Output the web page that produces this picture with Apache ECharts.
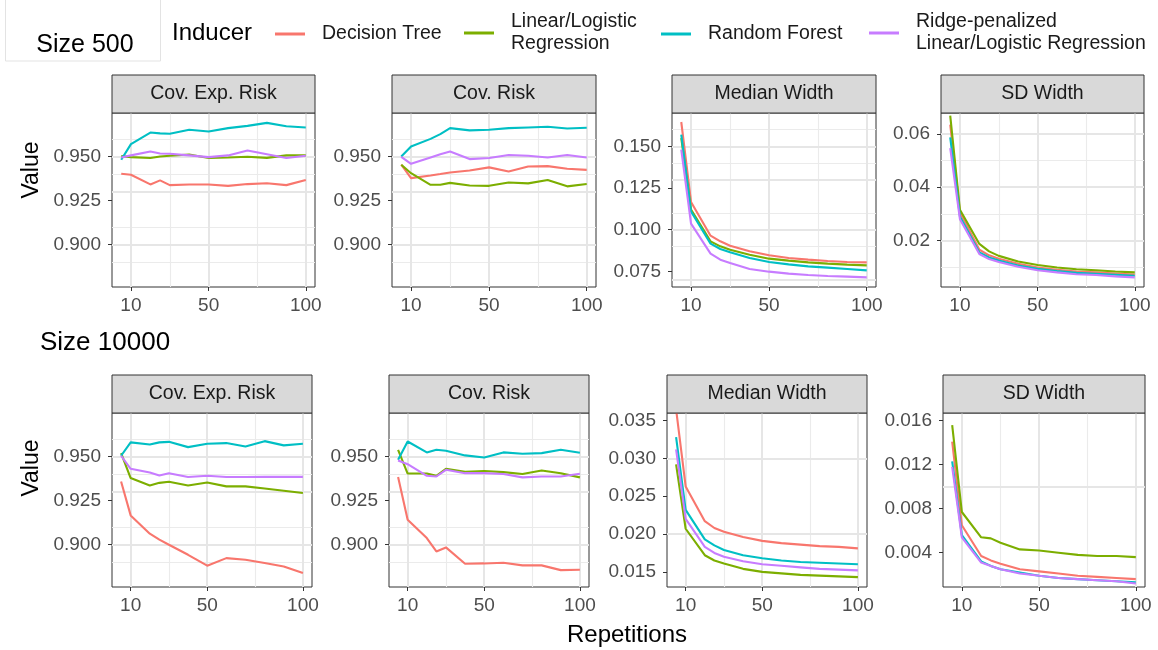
<!DOCTYPE html>
<html><head><meta charset="utf-8">
<script src="https://cdn.jsdelivr.net/npm/echarts@6/dist/echarts.min.js"></script>
<style>html,body{margin:0;padding:0;background:#fff}#c{width:1158px;height:650px}</style>
</head><body><div id="c"></div>
<script>
// ---------------- DATA ----------------
const repetitions = [5,10,20,25,30,40,50,60,70,80,90,100];
const inducers = ['Decision Tree','Linear/Logistic\nRegression','Random Forest','Ridge-penalized\nLinear/Logistic Regression'];
const panelTitles = ['Cov. Exp. Risk','Cov. Risk','Median Width','SD Width'];
const rowTitles = ['Size 500','Size 10000'];
const xTicks = [10,50,100];
const xMinorTicks = [30,75];

const covTicks = [0.900,0.925,0.950];
const covMinor = [0.8875,0.9125,0.9375,0.9625];
const mw500Ticks = [0.075,0.100,0.125,0.150];
const mw500Minor = [0.0875,0.1125,0.1375,0.1625];
const sd500Ticks = [0.02,0.04,0.06];
const sd500Minor = [0.01,0.03,0.05];
const mw10kTicks = [0.015,0.020,0.025,0.030,0.035];
const mw10kMinor = [0.0175,0.0225,0.0275,0.0325];
const sd10kTicks = [0.004,0.008,0.012,0.016];
const sd10kMinor = [0.002,0.006,0.010,0.014];

// Size 500
const s500_cer_dt = [0.9402,0.9396,0.9341,0.9364,0.9337,0.9341,0.9341,0.9333,0.9343,0.9348,0.9337,0.9366];
const s500_cer_lr = [0.9502,0.9496,0.9491,0.9500,0.9504,0.9511,0.9491,0.9494,0.9498,0.9492,0.9506,0.9506];
const s500_cer_rf = [0.9481,0.9570,0.9636,0.9631,0.9629,0.9652,0.9642,0.9661,0.9674,0.9691,0.9672,0.9665];
const s500_cer_rr = [0.9494,0.9506,0.9528,0.9517,0.9515,0.9506,0.9496,0.9506,0.9534,0.9513,0.9491,0.9504];

const s500_cr_dt = [0.9453,0.9377,0.9392,0.9400,0.9409,0.9420,0.9438,0.9415,0.9443,0.9445,0.9430,0.9424];
const s500_cr_lr = [0.9453,0.9405,0.9339,0.9339,0.9350,0.9335,0.9333,0.9352,0.9347,0.9366,0.9330,0.9343];
const s500_cr_rf = [0.9500,0.9557,0.9600,0.9627,0.9661,0.9648,0.9652,0.9661,0.9665,0.9669,0.9659,0.9663];
const s500_cr_rr = [0.9498,0.9458,0.9494,0.9513,0.9528,0.9485,0.9491,0.9508,0.9504,0.9494,0.9508,0.9494];

const s500_mw_dt = [0.1646,0.1166,0.0964,0.0930,0.0904,0.0870,0.0846,0.0830,0.0820,0.0812,0.0806,0.0804];
const s500_mw_lr = [0.1550,0.1120,0.0930,0.0900,0.0880,0.0850,0.0826,0.0814,0.0804,0.0796,0.0790,0.0786];
const s500_mw_rf = [0.1570,0.1110,0.0916,0.0884,0.0864,0.0830,0.0806,0.0792,0.0780,0.0772,0.0764,0.0756];
const s500_mw_rr = [0.1480,0.1036,0.0856,0.0820,0.0800,0.0764,0.0748,0.0736,0.0728,0.0722,0.0718,0.0714];

const s500_sd_dt = [0.0635,0.0305,0.0165,0.0144,0.0131,0.0112,0.0098,0.0090,0.0083,0.0080,0.0076,0.0072];
const s500_sd_lr = [0.0669,0.0315,0.0187,0.0159,0.0142,0.0121,0.0108,0.0098,0.0092,0.0088,0.0083,0.0080];
const s500_sd_rf = [0.0587,0.0290,0.0155,0.0136,0.0125,0.0106,0.0093,0.0085,0.0078,0.0075,0.0071,0.0067];
const s500_sd_rr = [0.0547,0.0280,0.0149,0.0130,0.0119,0.0101,0.0088,0.0080,0.0073,0.0070,0.0065,0.0061];

// Size 10000
const s10k_cer_dt = [0.9358,0.9165,0.9061,0.9027,0.8998,0.8941,0.8879,0.8922,0.8913,0.8894,0.8875,0.8837];
const s10k_cer_lr = [0.9519,0.9377,0.9335,0.9350,0.9356,0.9335,0.9352,0.9330,0.9330,0.9318,0.9305,0.9292];
const s10k_cer_rf = [0.9504,0.9580,0.9568,0.9580,0.9583,0.9553,0.9572,0.9576,0.9557,0.9587,0.9563,0.9572];
const s10k_cer_rr = [0.9504,0.9430,0.9409,0.9392,0.9405,0.9383,0.9390,0.9383,0.9383,0.9384,0.9384,0.9384];

const s10k_cr_dt = [0.9383,0.9140,0.9036,0.8960,0.8983,0.8890,0.8892,0.8896,0.8881,0.8881,0.8854,0.8856];
const s10k_cr_lr = [0.9538,0.9403,0.9403,0.9390,0.9430,0.9413,0.9417,0.9411,0.9400,0.9420,0.9405,0.9381];
const s10k_cr_rf = [0.9481,0.9585,0.9523,0.9538,0.9532,0.9506,0.9494,0.9523,0.9515,0.9519,0.9538,0.9521];
const s10k_cr_rr = [0.9477,0.9456,0.9390,0.9386,0.9424,0.9405,0.9405,0.9400,0.9381,0.9386,0.9386,0.9402];

const s10k_mw_dt = [0.0365,0.0263,0.0217,0.0208,0.0203,0.0196,0.0191,0.0188,0.0186,0.0184,0.0183,0.0181];
const s10k_mw_lr = [0.0292,0.0207,0.0172,0.0165,0.0161,0.0154,0.0150,0.0148,0.0146,0.0145,0.0144,0.0143];
const s10k_mw_rf = [0.0328,0.0232,0.0193,0.0185,0.0179,0.0172,0.0168,0.0165,0.0163,0.0162,0.0161,0.0160];
const s10k_mw_rr = [0.0312,0.0220,0.0183,0.0175,0.0170,0.0164,0.0160,0.0158,0.0156,0.0154,0.0153,0.0152];

const s10k_sd_dt = [0.0141,0.0065,0.0037,0.0033,0.0030,0.0025,0.0023,0.0021,0.0019,0.0018,0.0017,0.0016];
const s10k_sd_lr = [0.0156,0.0077,0.0054,0.0053,0.0049,0.0043,0.0042,0.0040,0.0038,0.0037,0.0037,0.0036];
const s10k_sd_rf = [0.0123,0.0056,0.0032,0.0028,0.0025,0.0022,0.0019,0.0017,0.0016,0.0015,0.0014,0.0013];
const s10k_sd_rr = [0.0118,0.0054,0.0031,0.0028,0.0025,0.0021,0.0019,0.0017,0.0016,0.0015,0.0014,0.0012];

// ---------------- BUILD ----------------
const colors = ['#F8766D','#7CAE00','#00BFC4','#C77CFF'];
const panelSeries = [
  [s500_cer_dt,s500_cer_lr,s500_cer_rf,s500_cer_rr],
  [s500_cr_dt,s500_cr_lr,s500_cr_rf,s500_cr_rr],
  [s500_mw_dt,s500_mw_lr,s500_mw_rf,s500_mw_rr],
  [s500_sd_dt,s500_sd_lr,s500_sd_rf,s500_sd_rr],
  [s10k_cer_dt,s10k_cer_lr,s10k_cer_rf,s10k_cer_rr],
  [s10k_cr_dt,s10k_cr_lr,s10k_cr_rf,s10k_cr_rr],
  [s10k_mw_dt,s10k_mw_lr,s10k_mw_rf,s10k_mw_rr],
  [s10k_sd_dt,s10k_sd_lr,s10k_sd_rf,s10k_sd_rr]
];
const yCfg = [
  {min:0.8758,max:0.9747,ticks:covTicks,minor:covMinor,dec:3},
  {min:0.8758,max:0.9747,ticks:covTicks,minor:covMinor,dec:3},
  {min:0.0656,max:0.1700,ticks:mw500Ticks,minor:mw500Minor,dec:3},
  {min:0.0025,max:0.0679,ticks:sd500Ticks,minor:sd500Minor,dec:2},
  {min:0.8758,max:0.9747,ticks:covTicks,minor:covMinor,dec:3},
  {min:0.8758,max:0.9747,ticks:covTicks,minor:covMinor,dec:3},
  {min:0.0130,max:0.0360,ticks:mw10kTicks,minor:mw10kMinor,dec:3},
  {min:0.00088,max:0.0167,ticks:sd10kTicks,minor:sd10kMinor,dec:3}
];
const layout = [
  {left:112,top:113,width:203,height:174},
  {left:392,top:113,width:204,height:174},
  {left:672,top:113,width:204,height:174},
  {left:941,top:113,width:203,height:174},
  {left:112,top:413,width:200,height:174},
  {left:389,top:413,width:200,height:174},
  {left:667,top:413,width:200,height:174},
  {left:943,top:413,width:202,height:174}
];
const FONT = 'Liberation Sans, Arial, Helvetica, sans-serif';
const grids=[], xAxes=[], yAxes=[], series=[], graphics=[];
layout.forEach((L,i)=>{
  grids.push({left:L.left,top:L.top,width:L.width,height:L.height,show:true,
    backgroundColor:'#fff',borderColor:'#333333',borderWidth:1});
  xAxes.push({type:'value',gridIndex:i,min:0.25,max:104.75,
    axisLine:{show:false},splitLine:{show:false},
    axisTick:{show:true,length:4,customValues:xTicks,lineStyle:{color:'#333333',width:1}},
    axisLabel:{customValues:xTicks,margin:9,fontSize:19,color:'#4D4D4D',fontFamily:FONT}});
  const c = yCfg[i];
  yAxes.push({type:'value',gridIndex:i,min:c.min,max:c.max,
    axisLine:{show:false},splitLine:{show:false},
    axisTick:{show:true,length:4,customValues:c.ticks,lineStyle:{color:'#333333',width:1}},
    axisLabel:{customValues:c.ticks,margin:11,fontSize:19,color:'#4D4D4D',fontFamily:FONT,
      formatter:v=>Number(v).toFixed(c.dec)}});
  // gridlines through the axes' scales
  const ml = [];
  c.minor.forEach(v=>ml.push({yAxis:v,lineStyle:{color:'#EBEBEB',width:1.1,type:'solid'}}));
  xMinorTicks.forEach(v=>ml.push({xAxis:v,lineStyle:{color:'#EBEBEB',width:1.1,type:'solid'}}));
  c.ticks.forEach(v=>ml.push({yAxis:v,lineStyle:{color:'#E6E6E6',width:2,type:'solid'}}));
  xTicks.forEach(v=>ml.push({xAxis:v,lineStyle:{color:'#E6E6E6',width:2,type:'solid'}}));
  series.push({type:'line',name:'_grid'+i,xAxisIndex:i,yAxisIndex:i,data:[],silent:true,z:1,
    markLine:{silent:true,z:1,animation:false,symbol:['none','none'],label:{show:false},emphasis:{disabled:true},data:ml}});
  panelSeries[i].forEach((arr,k)=>{
    series.push({type:'line',name:inducers[k],xAxisIndex:i,yAxisIndex:i,z:2+k,
      data:repetitions.map((x,j)=>[x,arr[j]]),showSymbol:false,symbol:'none',
      lineStyle:{color:colors[k],width:2.1},itemStyle:{color:colors[k]},
      emphasis:{disabled:true},animation:false});
  });
  // strip
  graphics.push({type:'rect',shape:{x:L.left,y:L.top-38,width:L.width,height:38},
    style:{fill:'#D9D9D9',stroke:'#333333',lineWidth:1},z:10});
  graphics.push({type:'text',x:L.left+L.width/2,y:L.top-19,z:11,
    style:{text:panelTitles[i%4],fill:'#1A1A1A',font:'19.5px '+FONT,align:'center',verticalAlign:'middle'}});
});
// row titles, axis titles, legend title
graphics.push({type:'rect',shape:{x:5.5,y:-5,width:155,height:66},style:{fill:'#fff',stroke:'#E3E3E3',lineWidth:1},z:10});
graphics.push({type:'text',x:85,y:45,z:11,style:{text:rowTitles[0],fill:'#000',font:'25px '+FONT,align:'center',verticalAlign:'middle'}});
graphics.push({type:'text',x:40,y:343,z:11,style:{text:rowTitles[1],fill:'#000',font:'26px '+FONT,align:'left',verticalAlign:'middle'}});
graphics.push({type:'text',x:32,y:170,rotation:Math.PI/2,z:11,style:{text:'Value',fill:'#000',font:'23px '+FONT,align:'center',verticalAlign:'middle'}});
graphics.push({type:'text',x:32,y:468,rotation:Math.PI/2,z:11,style:{text:'Value',fill:'#000',font:'23px '+FONT,align:'center',verticalAlign:'middle'}});
graphics.push({type:'text',x:627,y:635,z:11,style:{text:'Repetitions',fill:'#000',font:'24px '+FONT,align:'center',verticalAlign:'middle'}});
graphics.push({type:'text',x:172,y:33,z:11,style:{text:'Inducer',fill:'#000',font:'24px '+FONT,align:'left',verticalAlign:'middle'}});

const legendLeft = [275,464,661,869];
const legendTop = [23,11,23,11];
const legends = inducers.map((n,k)=>({data:[n],left:legendLeft[k],top:legendTop[k],padding:0,
  icon:'rect',itemWidth:30,itemHeight:3,selectedMode:false,
  textStyle:{fontSize:19.5,color:'#1A1A1A',fontFamily:FONT,lineHeight:22,padding:[0,0,0,12]}}));

const chart = echarts.init(document.getElementById('c'),null,{renderer:'canvas'});
chart.setOption({animation:false,backgroundColor:'#fff',
  grid:grids,xAxis:xAxes,yAxis:yAxes,series:series,legend:legends,graphic:graphics});
</script></body></html>
